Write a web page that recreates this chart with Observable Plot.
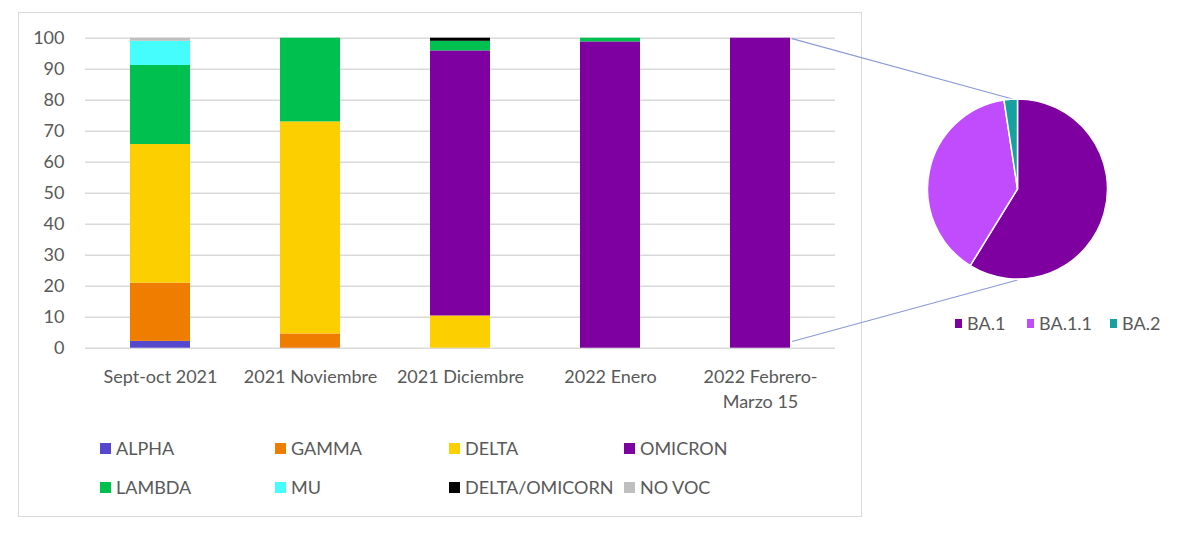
<!DOCTYPE html>
<html>
<head>
<meta charset="utf-8">
<script src="https://cdn.jsdelivr.net/npm/d3@7"></script>
<script src="https://cdn.jsdelivr.net/npm/@observablehq/plot@0.6"></script>
<style>
  body { margin: 0; background: #fff; font-family: Lato, "Noto Sans", sans-serif; }
  #wrap { position: relative; width: 1200px; height: 545px; overflow: hidden; background: #fff; }
  #frame { position: absolute; left: 18px; top: 12px; width: 844px; height: 505px;
           border: 1.5px solid #d9d9d9; box-sizing: border-box; }
  #chart { position: absolute; left: 0; top: 0; }
  .leg { position: absolute; display: flex; align-items: center; white-space: nowrap;
         font-size: 18px; color: #595959; line-height: 1; }
  .leg .sw { display: inline-block; margin-right: 5px; }
</style>
</head>
<body>
<div id="wrap">
  <div id="frame"></div>
  <div id="chart"></div>
</div>
<script>
// Periods on the x axis (the last one wraps onto two lines)
const periods = ["Sept-oct 2021", "2021 Noviembre", "2021 Diciembre", "2022 Enero", "2022 Febrero-\nMarzo 15"];

// Variant shares (%) per period, bottom to top of each stack
const variants = ["ALPHA", "GAMMA", "DELTA", "OMICRON", "LAMBDA", "MU", "DELTA/OMICORN", "NO VOC"];
const alpha        = [2.2, 0, 0, 0, 0];
const gamma        = [18.8, 4.6, 0, 0, 0];
const delta        = [44.7, 68.4, 10.4, 0, 0];
const omicron      = [0, 0, 85.5, 98.8, 100];
const lambda       = [25.5, 27.0, 3.1, 1.2, 0];
const mu           = [7.8, 0, 0, 0, 0];
const deltaOmicron = [0, 0, 1.0, 0, 0];
const noVoc        = [1.0, 0, 0, 0, 0];

// Omicron sub-lineages for the last period
const lineages = ["BA.1", "BA.1.1", "BA.2"];
const lineageShare = [58.8, 38.8, 2.4];

// Axis ticks
const yTicks = [0, 10, 20, 30, 40, 50, 60, 70, 80, 90, 100];

// Colours
const variantColors = ["#5548cc", "#ef7d00", "#fcd000", "#7e00a0", "#00c04f", "#45fdfd", "#000000", "#bfbfbf"];
const lineageColors = ["#7e00a0", "#c04cfd", "#15a29f"];
const connectorColor = "#8c9ad8";

// Long table for the stacked bars
const series = [alpha, gamma, delta, omicron, lambda, mu, deltaOmicron, noVoc];
const rows = [];
periods.forEach((p, i) => {
  variants.forEach((v, k) => {
    const value = series[k][i];
    if (value > 0) rows.push({period: p, variant: v, value});
  });
});
const pieRows = lineages.map((name, i) => ({name, value: lineageShare[i]}));

// Inset pie placement
const PIE_CX = 1017.5, PIE_CY = 189, PIE_R = 90;

function pieInset(index, scales) {
  const g = d3.create("svg:g");
  const x = scales.x, y = scales.y;
  const last = periods[periods.length - 1];
  const xr = x(last) + x.bandwidth();
  // connectors from the last bar to the pie
  g.append("line")
    .attr("x1", xr + 2).attr("y1", y(100) + 1)
    .attr("x2", PIE_CX - 5).attr("y2", PIE_CY - PIE_R)
    .attr("stroke", connectorColor).attr("stroke-width", 1.2);
  g.append("line")
    .attr("x1", xr + 2).attr("y1", y(2))
    .attr("x2", PIE_CX).attr("y2", PIE_CY + PIE_R + 1)
    .attr("stroke", connectorColor).attr("stroke-width", 1.2);
  const arcs = d3.pie().sort(null).value(d => d.value)(pieRows);
  const arc = d3.arc().innerRadius(0).outerRadius(PIE_R);
  g.append("g")
    .attr("transform", `translate(${PIE_CX},${PIE_CY})`)
    .selectAll("path")
    .data(arcs)
    .join("path")
    .attr("d", arc)
    .attr("fill", (d, i) => lineageColors[i])
    .attr("stroke", "#fff")
    .attr("stroke-width", 1.5);
  return g.node();
}

const chart = Plot.plot({
  width: 1200,
  height: 545,
  marginLeft: 85,
  marginRight: 365,
  marginTop: 37.7,
  marginBottom: 197.3,
  style: {fontFamily: "Lato, 'Noto Sans', sans-serif", fontSize: "18px", color: "#595959", background: "transparent", overflow: "visible"},
  x: {domain: periods, paddingInner: 0.6, paddingOuter: 0.3, label: null},
  y: {domain: [0, 100], label: null},
  color: {domain: variants, range: variantColors},
  marks: [
    Plot.gridY(yTicks, {stroke: "#d9d9d9", strokeOpacity: 1, strokeWidth: 1.4}),
    Plot.barY(rows, {x: "period", y: "value", fill: "variant", order: variants}),
    Plot.axisY(yTicks, {tickSize: 0, tickPadding: 21, label: null, fill: "#595959"}),
    Plot.axisX({tickSize: 0, tickPadding: 17, label: null, lineHeight: 1.4, fill: "#595959"}),
    pieInset
  ]
});
document.getElementById("chart").appendChild(chart);

// Legends as positioned HTML
const wrap = document.getElementById("wrap");
function addItem(label, color, left, cy, sw) {
  const d = document.createElement("div");
  d.className = "leg";
  d.style.left = left + "px";
  d.style.top = (cy - 9) + "px";
  d.style.height = "18px";
  const s = document.createElement("span");
  s.className = "sw";
  s.style.width = sw[0] + "px";
  s.style.height = sw[1] + "px";
  s.style.background = color;
  d.appendChild(s);
  d.appendChild(document.createTextNode(label));
  wrap.appendChild(d);
}
const legCols = [100, 275, 449, 624];
const legRows = [448, 487];
variants.forEach((v, i) => {
  addItem(v, variantColors[i], legCols[i % 4], legRows[Math.floor(i / 4)], [11, 11]);
});
const pieLegX = [955, 1027, 1110];
lineages.forEach((v, i) => addItem(v, lineageColors[i], pieLegX[i], 323, [7, 9]));
</script>
</body>
</html>
